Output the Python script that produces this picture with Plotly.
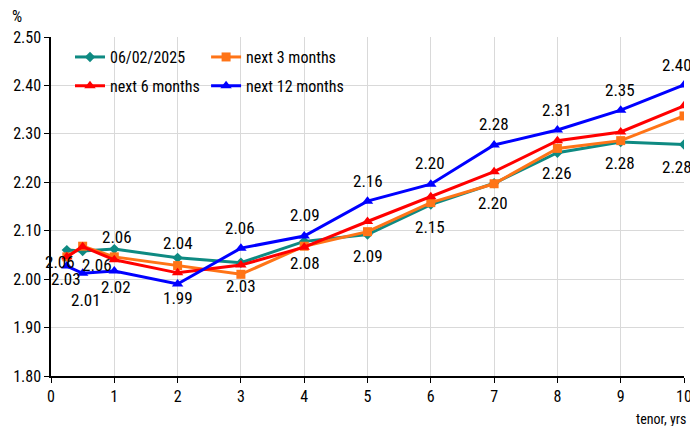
import plotly.graph_objects as go

tenor = [0.25, 0.5, 1, 2, 3, 4, 5, 6, 7, 8, 9, 10]
curve_now = [2.060, 2.058, 2.062, 2.044, 2.034, 2.078, 2.092, 2.154, 2.198, 2.261, 2.283, 2.278]
curve_3m = [2.046, 2.068, 2.046, 2.028, 2.010, 2.068, 2.098, 2.158, 2.197, 2.270, 2.286, 2.337]
curve_6m = [2.046, 2.067, 2.040, 2.013, 2.029, 2.066, 2.119, 2.170, 2.222, 2.286, 2.304, 2.358]
curve_12m = [2.027, 2.012, 2.017, 1.990, 2.064, 2.089, 2.161, 2.196, 2.277, 2.308, 2.349, 2.401]
names = ["06/02/2025", "next 3 months", "next 6 months", "next 12 months"]
y_ticks = [1.80, 1.90, 2.00, 2.10, 2.20, 2.30, 2.40, 2.50]
x_ticks = list(range(0, 11))

FONT = "Liberation Sans Narrow, Arial Narrow, Roboto Condensed, Archivo Narrow, PT Sans Narrow, Liberation Sans, sans-serif"

# label offsets in screen px (dx, dy; dy positive = down)
now_off = [(-7, 12), (14, 14), (3, -12), (0, -15), (0, 23), (1, 22), (0, 21),
           (-1, 22), (-1, 20), (0, 20), (-1, 21), (-7, 22)]
m12_off = [(-1, 13), (3, 27), (2, 16), (0, 14), (-1, -20), (1, -21), (0, -20),
           (-1, -21), (0, -21), (0, -20), (-1, -20), (-7, -20)]

fig = go.Figure()
styles = [
    (curve_now, "#0E8A82", "diamond", 8, "legend", "g1"),
    (curve_3m, "#FF7417", "square", 9, "legend2", "g2"),
    (curve_6m, "#FF0000", "triangle-up", 10, "legend", "g3"),
    (curve_12m, "#0000FF", "triangle-up", 10, "legend2", "g4"),
]
for (vals, col, sym, sz, leg, grp), nm in zip(styles, names):
    fig.add_trace(go.Scatter(
        x=tenor, y=vals, name=nm, mode="lines+markers",
        line=dict(color=col, width=3),
        marker=dict(color=col, symbol=sym, size=sz),
        legend=leg, legendgroup=grp, hoverinfo="skip",
    ))

for vals, offs in ((curve_now, now_off), (curve_12m, m12_off)):
    for xv, yv, (dx, dy) in zip(tenor, vals, offs):
        fig.add_annotation(x=xv, y=yv, xref="x", yref="y", text=f"{yv:.2f}",
                           showarrow=False, xshift=dx, yshift=-dy,
                           xanchor="center", yanchor="middle",
                           font=dict(family=FONT, size=17, color="black"))

fig.add_annotation(x=-0.054, y=1.059, xref="paper", yref="paper", text="%",
                   showarrow=False, xanchor="center", yanchor="middle",
                   font=dict(family=FONT, size=16, color="black"))
fig.add_annotation(x=1.0, y=-0.127, xref="paper", yref="paper", text="tenor, yrs",
                   showarrow=False, xanchor="right", yanchor="middle", xshift=4,
                   font=dict(family=FONT, size=14, color="black"))

legend_common = dict(orientation="v", bgcolor="rgba(0,0,0,0)", borderwidth=0,
                     font=dict(family=FONT, size=16, color="black"),
                     tracegroupgap=5, itemwidth=30, yanchor="top", xanchor="left")

fig.update_layout(
    width=698, height=426,
    margin=dict(l=43, r=22, t=29, b=58, autoexpand=False),
    paper_bgcolor="white", plot_bgcolor="white",
    font=dict(family=FONT, size=16, color="black"),
    showlegend=True,
    legend=dict(x=0.030, y=0.991, **legend_common),
    legend2=dict(x=0.245, y=0.991, **legend_common),
    xaxis=dict(range=[0, 10], tickvals=x_ticks, showgrid=True, gridcolor="#D9D9D9",
               gridwidth=1, showline=True, linecolor="black", linewidth=1.5,
               ticks="outside", ticklen=5, tickcolor="black", zeroline=False,
               automargin=False, tickfont=dict(family=FONT, size=16, color="black")),
    yaxis=dict(range=[1.80, 2.50], tickvals=y_ticks, tickformat=".2f", showgrid=True,
               gridcolor="#D9D9D9", gridwidth=1, showline=True, linecolor="black",
               linewidth=1.5, ticks="outside", ticklen=5, tickcolor="black",
               zeroline=False, automargin=False,
               tickfont=dict(family=FONT, size=16, color="black")),
)

fig.write_html("out.html")
